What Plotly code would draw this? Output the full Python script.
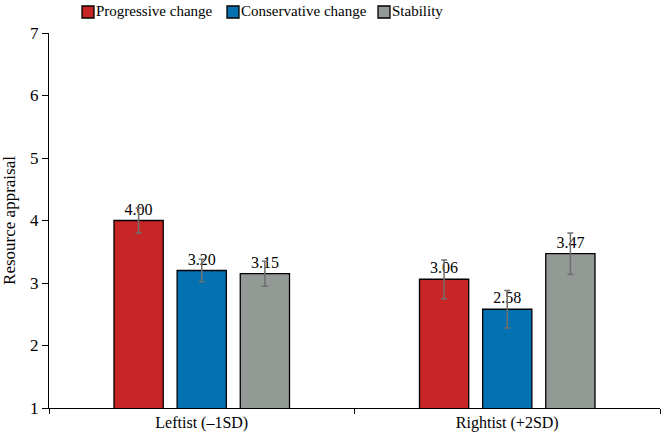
import plotly.graph_objects as go

categories = ["Leftist (\u20131SD)", "Rightist (+2SD)"]
series_names = ["Progressive change", "Conservative change", "Stability"]
progressive = [4.00, 3.06]
conservative = [3.20, 2.58]
stability = [3.15, 3.47]
progressive_err = [0.20, 0.31]
conservative_err = [0.18, 0.30]
stability_err = [0.20, 0.33]
y_ticks = [1, 2, 3, 4, 5, 6, 7]

colors = ["#C72627", "#0471B0", "#939A96"]
values = [progressive, conservative, stability]
errors = [progressive_err, conservative_err, stability_err]

font_family = "Times New Roman"

W, H = 661, 441
ML, MR, MT, MB = 49, 1, 33, 33

fig = go.Figure()
for name, vals, errs, col in zip(series_names, values, errors, colors):
    fig.add_trace(go.Bar(
        name=name, x=categories, y=vals,
        marker=dict(color=col, line=dict(color="black", width=1.3)),
        error_y=dict(type="data", array=errs, visible=True, color="#6f6f6f", thickness=1.5, width=3),
        text=[f"{v:.2f}" for v in vals], textposition="outside",
        textfont=dict(family=font_family, size=16, color="black"),
        cliponaxis=False, showlegend=False,
    ))

# manual legend (pixel positions converted to paper coords)
def px_x(p):
    return (p - ML) / (W - ML - MR)

def px_y(p):
    return (H - MB - p) / (H - MT - MB)

legend_x = [82, 227, 378]
for lx, name, col in zip(legend_x, series_names, colors):
    fig.add_shape(type="rect", xref="paper", yref="paper",
                  x0=px_x(lx), x1=px_x(lx + 12), y0=px_y(18), y1=px_y(6),
                  fillcolor=col, line=dict(color="black", width=1.3))
    fig.add_annotation(xref="paper", yref="paper", x=px_x(lx + 13), y=px_y(11),
                       xanchor="left", yanchor="middle", showarrow=False, text=name,
                       borderpad=0,
                       font=dict(family=font_family, size=15, color="black"))

fig.update_layout(
    width=W, height=H,
    margin=dict(l=ML, r=MR, t=MT, b=MB, autoexpand=False),
    plot_bgcolor="white", paper_bgcolor="white",
    barmode="group", bargap=0.38, bargroupgap=0.22,
    font=dict(family=font_family, size=16, color="black"),
    showlegend=False,
)
fig.update_yaxes(range=[1, 7], tickvals=y_ticks, showline=True, linecolor="black", linewidth=1.3,
                 ticks="outside", ticklen=6, tickcolor="black", showgrid=False, zeroline=False,
                 automargin=False,
                 title=dict(text="Resource appraisal", font=dict(family=font_family, size=17), standoff=12),
                 tickfont=dict(family=font_family, size=17))
fig.update_xaxes(showline=True, linecolor="black", linewidth=1.3, ticks="outside", tickson="boundaries",
                 automargin=False,
                 ticklen=5, tickcolor="black", showgrid=False, tickfont=dict(family=font_family, size=16))

fig.write_html("out.html", config={"displayModeBar": False},
               post_script="document.body.style.margin='0';document.body.style.padding='0';")
